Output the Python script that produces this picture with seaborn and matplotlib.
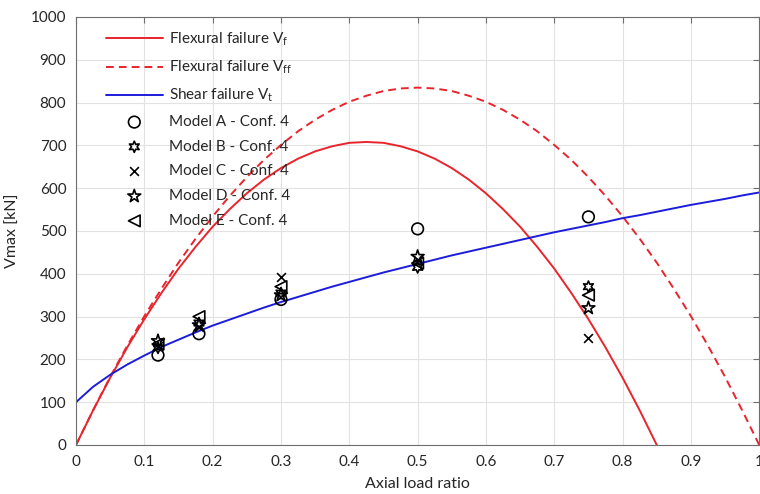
import numpy as np
import matplotlib
matplotlib.use('Agg')
import matplotlib.pyplot as plt
import seaborn as sns

# curves (axial load ratio -> Vmax [kN])
x_vf = [0, 0.025, 0.05, 0.075, 0.1, 0.125, 0.15, 0.175, 0.2, 0.225, 0.25, 0.275, 0.3,
        0.325, 0.35, 0.375, 0.4, 0.425, 0.45, 0.475, 0.5, 0.525, 0.55, 0.575, 0.6,
        0.625, 0.65, 0.675, 0.7, 0.725, 0.75, 0.775, 0.8, 0.825, 0.85]
vf = [0, 81, 157, 228, 294, 355, 412, 463, 510, 551, 588, 620, 647, 669, 686, 698, 706,
      708, 706, 698, 686, 669, 647, 620, 588, 551, 510, 463, 412, 355, 294, 228, 157, 81, 0]

x_full = [0, 0.025, 0.05, 0.075, 0.1, 0.125, 0.15, 0.175, 0.2, 0.225, 0.25, 0.275, 0.3,
          0.325, 0.35, 0.375, 0.4, 0.425, 0.45, 0.475, 0.5, 0.525, 0.55, 0.575, 0.6,
          0.625, 0.65, 0.675, 0.7, 0.725, 0.75, 0.775, 0.8, 0.825, 0.85, 0.875, 0.9,
          0.925, 0.95, 0.975, 1.0]
vff = [0, 81, 159, 232, 301, 365, 426, 482, 534, 582, 626, 666, 701, 733, 760, 783, 802,
       816, 827, 833, 835, 833, 827, 816, 802, 783, 760, 733, 701, 666, 626, 582, 534,
       482, 426, 365, 301, 232, 159, 81, 0]
vt = [100, 136, 164, 188, 209, 229, 246, 263, 279, 293, 307, 321, 334, 346, 358, 370,
      381, 392, 403, 413, 423, 433, 443, 452, 461, 470, 479, 488, 497, 505, 513, 521,
      530, 537, 545, 553, 561, 568, 575, 583, 590]

# test results
x_tests = [0.12, 0.18, 0.3, 0.5, 0.75]
model_a = [210, 260, 340, 505, 533]
model_b = [227, 285, 355, 415, 370]
model_c = [232, 276, 392, 432, 250]
model_d = [243, 280, 350, 440, 320]
model_e = [236, 300, 370, 425, 350]

sns.set_style('white')
plt.rcParams['font.family'] = ['Lato', 'DejaVu Sans']
plt.rcParams['mathtext.fontset'] = 'custom'
plt.rcParams['mathtext.rm'] = 'Lato'
plt.rcParams['mathtext.it'] = 'Lato'

fig = plt.figure(figsize=(7.6, 4.94), dpi=100)
ax = fig.add_axes([0.1, 0.0992, 0.899, 0.8664])

red = '#e8242c'
blue = '#1c1cdc'
sns.lineplot(x=x_vf, y=vf, ax=ax, color=red, lw=1.4, label='Flexural failure V$_{\\mathrm{f}}$')
sns.lineplot(x=x_full, y=vff, ax=ax, color=red, lw=1.4, linestyle=(0, (4, 2.6)),
             label='Flexural failure V$_{\\mathrm{ff}}$')
sns.lineplot(x=x_full, y=vt, ax=ax, color=blue, lw=1.4, label='Shear failure V$_{\\mathrm{t}}$')

models = [('Model A - Conf. 4', model_a, 'o', 70),
          ('Model B - Conf. 4', model_b, (6, 1, 0), 65),
          ('Model C - Conf. 4', model_c, 'x', 40),
          ('Model D - Conf. 4', model_d, '*', 95),
          ('Model E - Conf. 4', model_e, '<', 70)]
for name, vals, m, s in models:
    if m == 'x':
        sns.scatterplot(x=x_tests, y=vals, ax=ax, marker=m, s=s, color='k',
                        linewidth=1.2, label=name, zorder=5)
    else:
        sns.scatterplot(x=x_tests, y=vals, ax=ax, marker=m, s=s, facecolor='none',
                        edgecolor='k', linewidth=1.2, label=name, zorder=5)

ax.set_xlim(0, 1)
ax.set_ylim(0, 1000)
ax.set_xticks(np.arange(0, 1.01, 0.1))
ax.set_xticklabels(['0', '0.1', '0.2', '0.3', '0.4', '0.5', '0.6', '0.7', '0.8', '0.9', '1'])
ax.set_yticks(np.arange(0, 1001, 100))
ax.grid(True, color='#e2e2e2', lw=0.8)
ax.set_axisbelow(True)
for sp in ax.spines.values():
    sp.set_color('#6e6e6e')
    sp.set_linewidth(0.8)
ax.tick_params(direction='in', length=4, width=0.8, color='#6e6e6e', labelsize=11,
               labelcolor='#262626', top=True, right=True, pad=7)
ax.set_xlabel('Axial load ratio', fontsize=11.5, color='#262626', labelpad=6)
ax.set_ylabel('Vmax [kN]', fontsize=11.5, color='#262626', labelpad=8)

ax.legend(loc='upper left', bbox_to_anchor=(0.035, 0.982), frameon=False, fontsize=11,
          handlelength=3.7, handletextpad=0.45, labelspacing=0.7, borderaxespad=0)

fig.savefig('out.png', dpi=100)
